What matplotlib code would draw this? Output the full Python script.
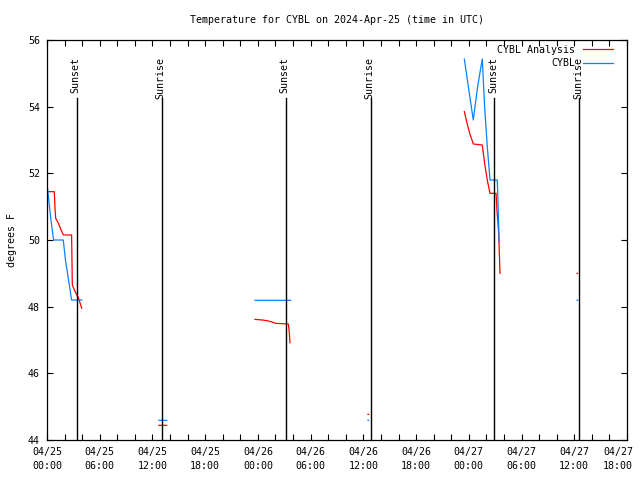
import numpy as np
import matplotlib
matplotlib.use("Agg")
import matplotlib.pyplot as plt
import matplotlib.transforms as mtransforms

nan = float("nan")

# hours since 2024-04-25 00:00 UTC
analysis_hours = [0.0, 0.83, 0.92, 0.99, 1.3, 1.6, 1.86, 2.8, 2.88, 3.2, 3.6, 3.95, nan,
                  23.67, 24.5, 25.0, 25.5, 26.0, 27.46, 27.55, 27.65, nan,
                  12.74, 13.62, nan,
                  36.52, 36.6, nan,
                  47.49, 47.8, 48.1, 48.51, 49.53, 49.8, 50.1, 50.41, 51.1, 51.2, 51.4, 51.55, nan,
                  60.32, 60.38]
analysis_vals = [51.45, 51.45, 50.9, 50.65, 50.5, 50.3, 50.15, 50.15, 48.65, 48.45, 48.25, 47.95, nan,
                 47.62, 47.6, 47.58, 47.55, 47.5, 47.48, 47.3, 46.92, nan,
                 44.44, 44.44, nan,
                 44.77, 44.77, nan,
                 53.85, 53.5, 53.2, 52.88, 52.85, 52.3, 51.8, 51.4, 51.4, 50.9, 50.2, 49.0, nan,
                 49.0, 49.0]

obs_hours = [0.0, 0.2, 0.45, 0.75, 1.85, 2.1, 2.45, 2.8, 3.95, nan,
             23.67, 27.73, nan,
             12.74, 13.62, nan,
             36.52, 36.6, nan,
             47.49, 48.0, 48.51, 49.0, 49.53, 49.8, 50.1, 50.41, 51.24, 51.3, 51.45, nan,
             60.32, 60.38]
obs_vals = [51.7, 51.2, 50.6, 50.0, 50.0, 49.4, 48.8, 48.2, 48.2, nan,
            48.19, 48.19, nan,
            44.59, 44.59, nan,
            44.59, 44.59, nan,
            55.43, 54.5, 53.6, 54.6, 55.43, 54.0, 52.8, 51.8, 51.8, 51.3, 49.95, nan,
            48.19, 48.19]

event_hours = [3.41, 13.09, 27.2, 36.87, 50.9, 60.57]
event_labels = ["Sunset", "Sunrise", "Sunset", "Sunrise", "Sunset", "Sunrise"]

tick_hours = [0, 6, 12, 18, 24, 30, 36, 42, 48, 54, 60, 66]
tick_labels = ["04/25\n00:00", "04/25\n06:00", "04/25\n12:00", "04/25\n18:00",
               "04/26\n00:00", "04/26\n06:00", "04/26\n12:00", "04/26\n18:00",
               "04/27\n00:00", "04/27\n06:00", "04/27\n12:00", "04/27\n18:00"]
y_ticks = [44, 46, 48, 50, 52, 54, 56]

plt.rcParams['font.family'] = ['DejaVu Sans Mono']
fs = 7.2

fig = plt.figure(figsize=(6.4, 4.8), dpi=100)
ax = fig.add_axes([47/640, 40/480, 580/640, 400/480])

ax.plot(analysis_hours, analysis_vals, color='#ff0000', lw=0.9, label='CYBL Analysis')
ax.plot(obs_hours, obs_vals, color='#0a80ff', lw=0.9, label='CYBL')

for h, lab in zip(event_hours, event_labels):
    ax.plot([h, h], [44, 54.25], color='black', lw=1.0)
    ax.text(h - 0.15, 55.5, lab, rotation=90, ha='center', va='top', fontsize=fs)

ax.set_xlim(0, 66)
ax.set_ylim(44, 56)
ax.set_xticks(tick_hours)
ax.set_xticklabels(tick_labels, fontsize=fs, linespacing=1.5)
ax.set_xticks(np.arange(0, 67, 2), minor=True)
ax.set_yticks(y_ticks)
ax.set_yticklabels([str(v) for v in y_ticks], fontsize=fs)
ax.tick_params(which='both', direction='in', top=True, right=True, length=4, width=0.8, pad=5)
for s in ax.spines.values():
    s.set_linewidth(0.9)

# keep the last tick label inside the image
last = ax.get_xticklabels()[-1]
last.set_transform(last.get_transform() + mtransforms.ScaledTranslation(-9/100, 0, fig.dpi_scale_trans))

ax.set_title("Temperature for CYBL on 2024-Apr-25 (time in UTC)", fontsize=fs, pad=12)
ax.set_ylabel("degrees F", fontsize=fs, labelpad=8)

leg = ax.legend(loc='upper right', bbox_to_anchor=(0.985, 1.0), frameon=False, markerfirst=False,
                fontsize=fs, handlelength=3.0, handletextpad=0.8, labelspacing=0.35, borderaxespad=0.1)

fig.savefig("out.png", dpi=100)
